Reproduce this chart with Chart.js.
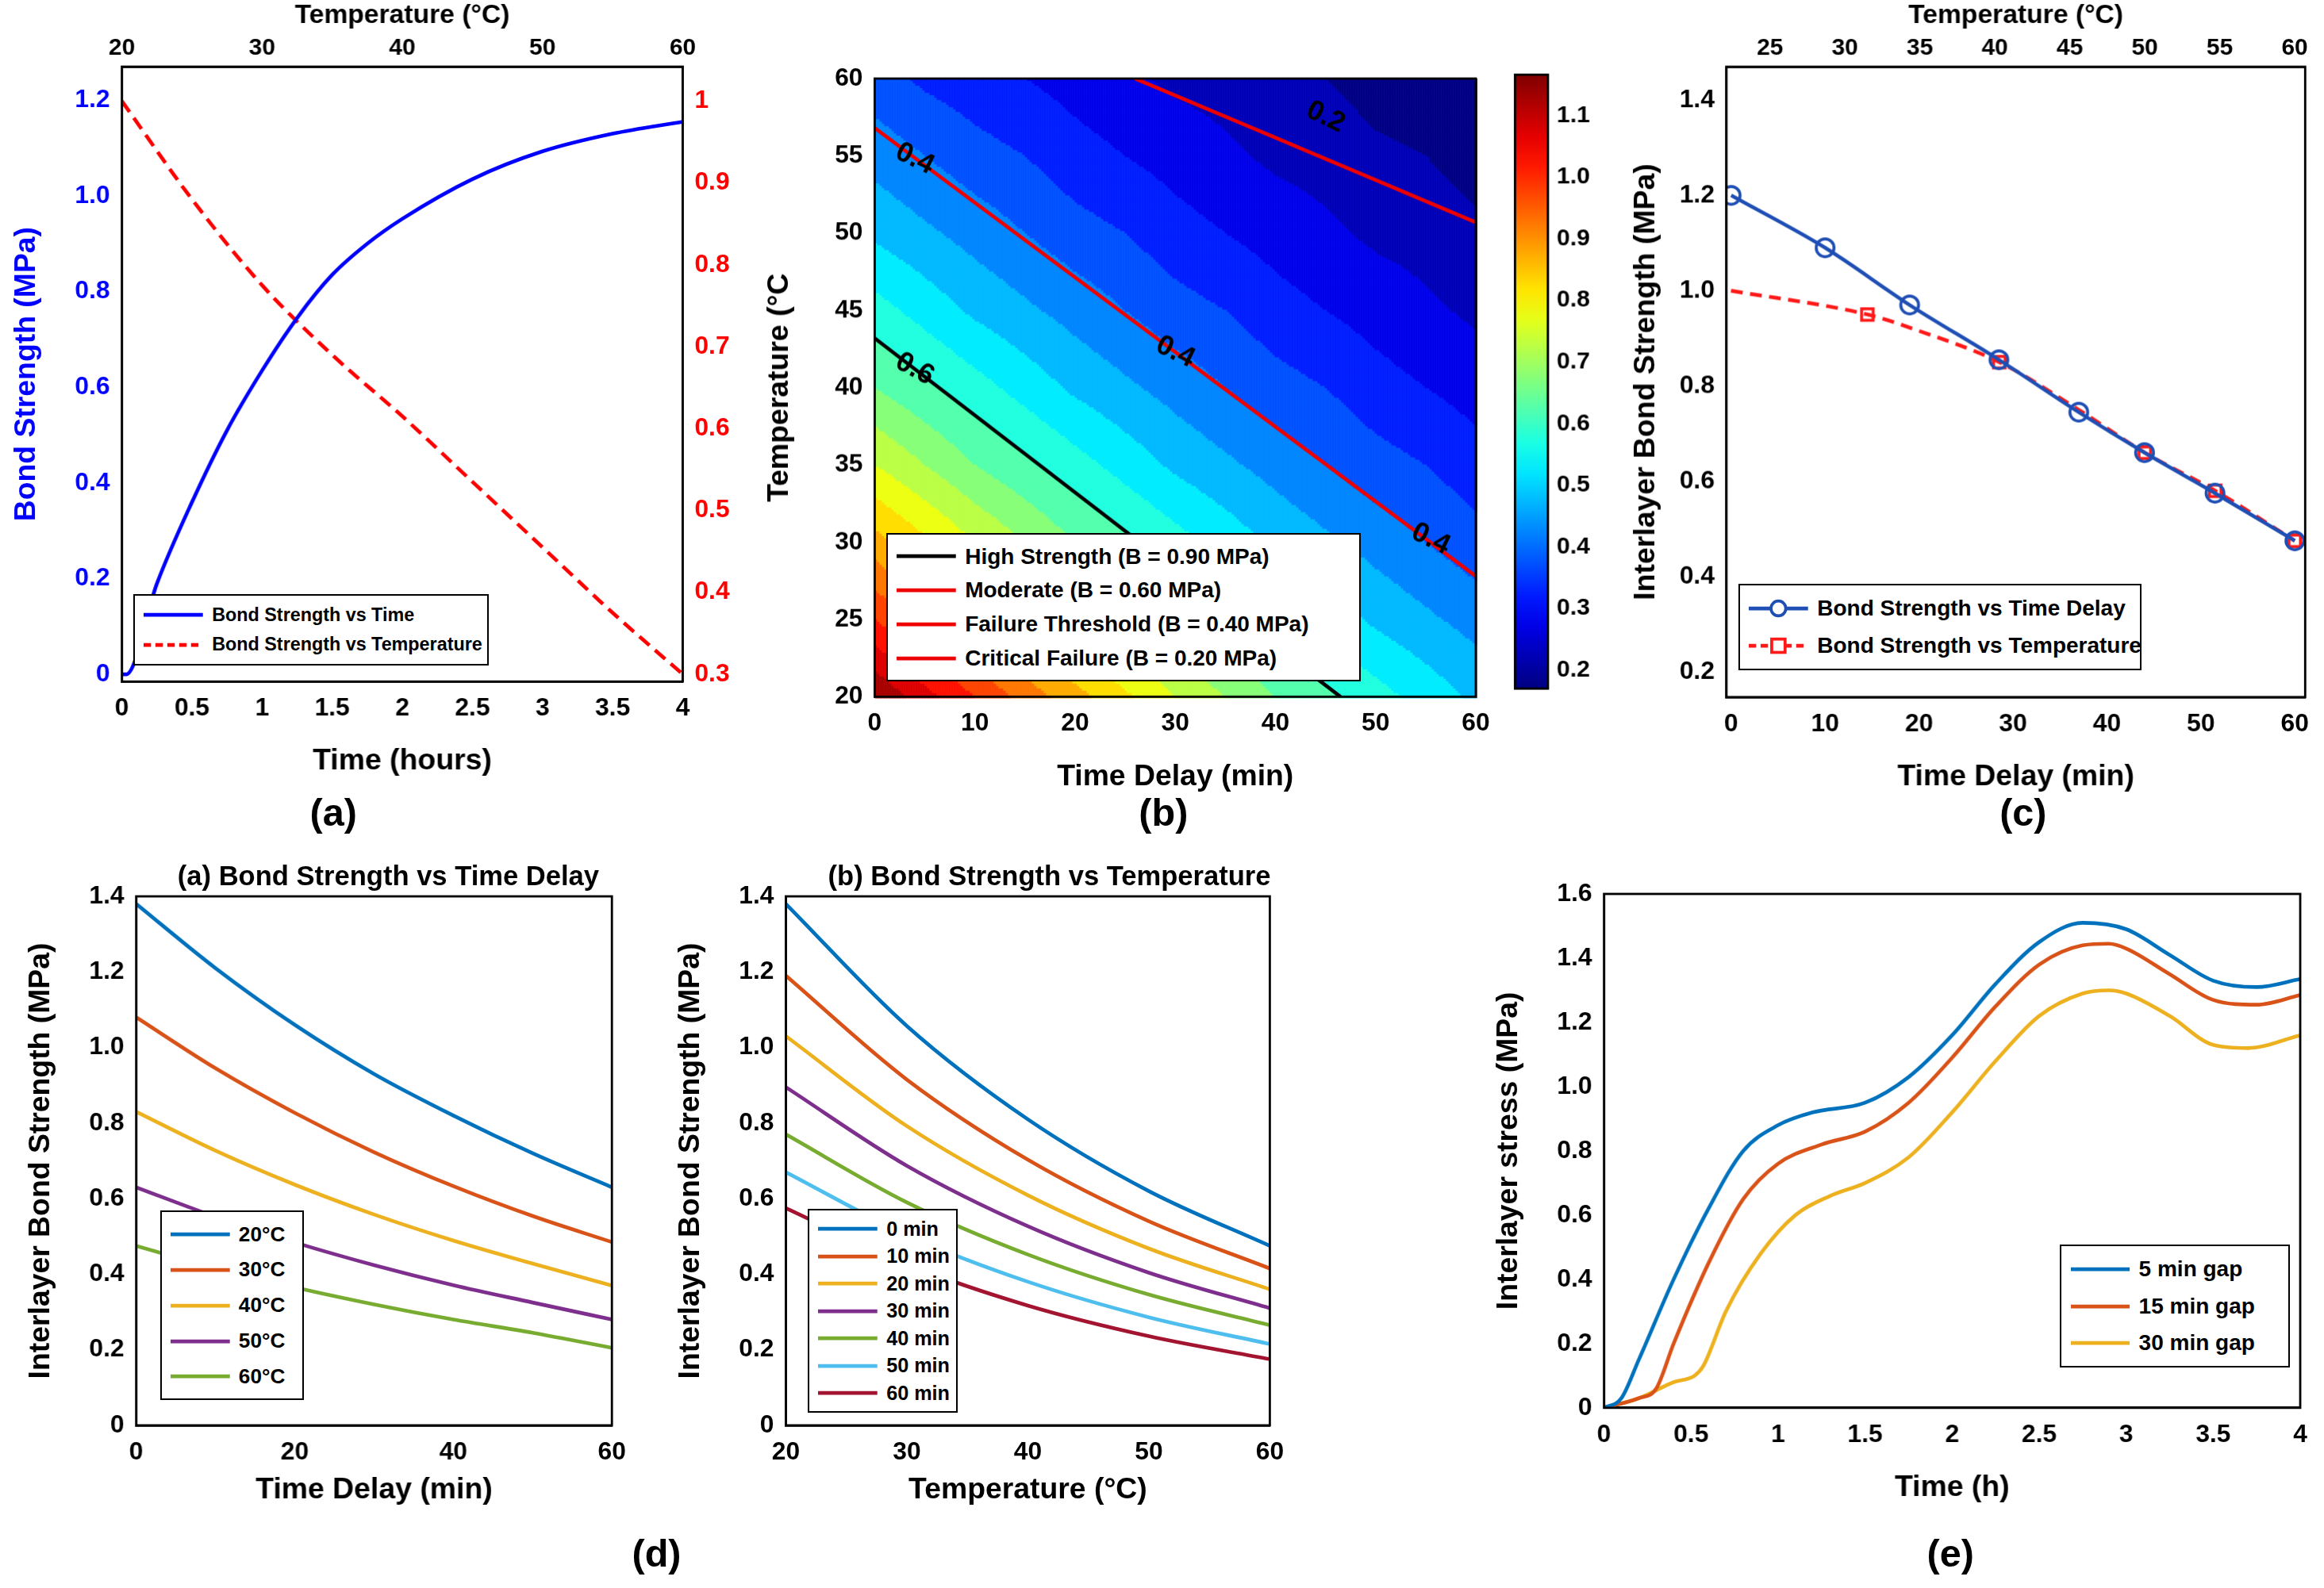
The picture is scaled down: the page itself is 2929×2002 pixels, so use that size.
<!DOCTYPE html>
<html lang="en">
<head>
<meta charset="UTF-8">
<title>Bond strength figure</title>
<script src="https://cdn.jsdelivr.net/npm/chart.js"></script>
<style>
    body { margin: 0; background: #fff; font-family: "Liberation Sans", Arial, sans-serif; }
    #page { position: relative; width: 2929px; height: 2002px; overflow: hidden; background: #fff; }
    .box { position: absolute; }
    .lbl { position: absolute; font-weight: bold; color: #000; white-space: nowrap; transform: translateX(-50%); }
    .legend { position: absolute; background: #fff; border: 2px solid #000; box-sizing: border-box; font-weight: bold; color: #000; }
    .legend .row { display: flex; align-items: center; white-space: nowrap; }
    .legend svg { flex: none; }
</style>
</head>
<body>
<div id="page"></div>
<script>
// ---------- data ----------
// (a)
const aTime = [0, 0.03, 0.25, 0.5, 0.75, 1, 1.25, 1.5, 1.75, 2, 2.5, 3, 3.5, 4];
const aStrength = [0, 0, 0.19, 0.36, 0.51, 0.635, 0.745, 0.835, 0.9, 0.952, 1.035, 1.093, 1.13, 1.155];
const aTemp = [20, 25, 30, 35, 40, 45, 50, 55, 60];
const aTempStrength = [1.0, 0.88, 0.775, 0.69, 0.615, 0.535, 0.455, 0.375, 0.3];

// (b) strength field, rows = temperature, cols = time delay
const heatTime = [0, 5, 10, 15, 20, 25, 30, 35, 40, 45, 50, 55, 60];
const heatTemp = [20, 25, 30, 35, 40, 45, 50, 55, 60];
const heatB = [
    [1.15, 1.07, 1.00, 0.93, 0.87, 0.81, 0.75, 0.70, 0.65, 0.61, 0.57, 0.53, 0.49],
    [1.00, 0.93, 0.87, 0.81, 0.75, 0.70, 0.65, 0.61, 0.57, 0.53, 0.49, 0.46, 0.43],
    [0.87, 0.81, 0.75, 0.70, 0.65, 0.61, 0.57, 0.53, 0.49, 0.46, 0.43, 0.40, 0.37],
    [0.75, 0.70, 0.65, 0.61, 0.57, 0.53, 0.49, 0.46, 0.43, 0.40, 0.37, 0.35, 0.32],
    [0.65, 0.61, 0.57, 0.53, 0.49, 0.46, 0.43, 0.40, 0.37, 0.35, 0.32, 0.30, 0.28],
    [0.57, 0.53, 0.49, 0.46, 0.43, 0.40, 0.37, 0.35, 0.32, 0.30, 0.28, 0.26, 0.24],
    [0.49, 0.46, 0.43, 0.40, 0.37, 0.35, 0.32, 0.30, 0.28, 0.26, 0.24, 0.23, 0.21],
    [0.43, 0.40, 0.37, 0.35, 0.32, 0.30, 0.28, 0.26, 0.24, 0.23, 0.21, 0.20, 0.18],
    [0.37, 0.34, 0.32, 0.30, 0.28, 0.26, 0.24, 0.23, 0.21, 0.20, 0.18, 0.17, 0.16]
];
const contour06 = [{x: 0, y: 43.2}, {x: 46.5, y: 20}];
const contour04 = [{x: 0, y: 56.8}, {x: 60, y: 27.8}];
const contour02 = [{x: 26, y: 60}, {x: 60, y: 50.7}];
const contourLabels = [
    {x: 4, y: 41.2, text: '0.6', angle: 0.5},
    {x: 4, y: 54.8, text: '0.4', angle: 0.45},
    {x: 30, y: 42.3, text: '0.4', angle: 0.45},
    {x: 55.5, y: 30.2, text: '0.4', angle: 0.45},
    {x: 45, y: 57.5, text: '0.2', angle: 0.45}
];

// (c)
const cDelay = [0, 10, 19, 28.5, 37, 44, 51.5, 60];
const cStrength = [1.2, 1.09, 0.97, 0.855, 0.745, 0.66, 0.575, 0.475];
const cTemp = [22.4, 31.5, 35, 40.3, 45.6, 50, 54.7, 60];
const cTempStrength = [1.0, 0.95, 0.915, 0.85, 0.75, 0.66, 0.58, 0.475];
const cTempMarker = [0, 1, 0, 1, 0, 1, 1, 1];

// (d) left
const dDelay = [0, 10, 20, 30, 40, 50, 60];
const dByTemp = {
    '20°C': [1.38, 1.21, 1.06, 0.93, 0.82, 0.72, 0.63],
    '30°C': [1.08, 0.945, 0.827, 0.723, 0.633, 0.554, 0.485],
    '40°C': [0.83, 0.727, 0.637, 0.558, 0.489, 0.428, 0.37],
    '50°C': [0.63, 0.552, 0.484, 0.424, 0.371, 0.325, 0.28],
    '60°C': [0.475, 0.416, 0.365, 0.32, 0.28, 0.245, 0.205]
};
// (d) right
const dTemp = [20, 30, 40, 50, 60];
const dByDelay = {
    '0 min': [1.38, 1.057, 0.81, 0.62, 0.475],
    '10 min': [1.19, 0.915, 0.703, 0.54, 0.415],
    '20 min': [1.03, 0.792, 0.609, 0.468, 0.36],
    '30 min': [0.895, 0.687, 0.527, 0.404, 0.31],
    '40 min': [0.77, 0.59, 0.452, 0.346, 0.265],
    '50 min': [0.67, 0.504, 0.38, 0.286, 0.215],
    '60 min': [0.575, 0.427, 0.317, 0.236, 0.175]
};

// (e)
const eGap5 = [[0,0],[0.1,0.03],[0.2,0.15],[0.4,0.4],[0.6,0.62],[0.8,0.8],[1,0.88],[1.2,0.92],[1.5,0.95],[1.75,1.03],[2,1.16],[2.25,1.32],[2.5,1.45],[2.75,1.51],[3,1.49],[3.25,1.41],[3.5,1.33],[3.75,1.31],[4,1.335]];
const eGap15 = [[0,0],[0.2,0.03],[0.3,0.06],[0.4,0.2],[0.6,0.45],[0.8,0.65],[1,0.76],[1.25,0.82],[1.5,0.86],[1.75,0.95],[2,1.09],[2.25,1.25],[2.5,1.38],[2.75,1.44],[2.9,1.445],[3,1.43],[3.25,1.35],[3.5,1.27],[3.75,1.255],[4,1.285]];
const eGap30 = [[0,0],[0.2,0.03],[0.4,0.08],[0.52,0.1],[0.57,0.13],[0.7,0.3],[0.9,0.48],[1.1,0.6],[1.3,0.66],[1.5,0.7],[1.75,0.78],[2,0.92],[2.25,1.08],[2.5,1.22],[2.75,1.29],[2.9,1.3],[3,1.29],[3.25,1.22],[3.5,1.13],[3.7,1.12],[4,1.16]];

const mColors = ['#0072BD', '#D95319', '#EDB120', '#7E2F8E', '#77AC30', '#4DBEEE', '#A2142F'];

// ---------- helpers ----------
const S = 2929 / 1568;
const page = document.getElementById('page');
Chart.defaults.font.family = '"Liberation Sans", Arial, sans-serif';
Chart.defaults.font.weight = 'bold';
Chart.defaults.color = '#000';
Chart.defaults.animation = false;
Chart.defaults.plugins.legend.display = false;
Chart.defaults.plugins.tooltip.enabled = false;

const TICK = 17 * S, TITLE = 20 * S;

function place(plot, m) {
    const div = document.createElement('div');
    div.className = 'box';
    div.style.left = (plot[0] - m[0]) * S + 'px';
    div.style.top = (plot[1] - m[1]) * S + 'px';
    div.style.width = (plot[2] - plot[0] + m[0] + m[2]) * S + 'px';
    div.style.height = (plot[3] - plot[1] + m[1] + m[3]) * S + 'px';
    const cv = document.createElement('canvas');
    div.appendChild(cv);
    page.appendChild(div);
    return cv;
}
function pad(t, r) { return {top: t * S, right: r * S, left: 0, bottom: 0}; }

function text(x, y, str, size, color) {
    const d = document.createElement('div');
    d.className = 'lbl';
    d.style.left = x * S + 'px';
    d.style.top = y * S + 'px';
    d.style.fontSize = size * S + 'px';
    if (color) d.style.color = color;
    d.textContent = str;
    page.appendChild(d);
}

function legend(x, y, w, items, size, rowH) {
    const d = document.createElement('div');
    d.className = 'legend';
    d.style.left = x * S + 'px';
    d.style.top = y * S + 'px';
    d.style.width = w * S + 'px';
    d.style.padding = 3 * S + 'px ' + 6 * S + 'px';
    d.style.fontSize = size * S + 'px';
    items.forEach(it => {
        const r = document.createElement('div');
        r.className = 'row';
        r.style.height = rowH * S + 'px';
        const sw = 40 * S, sh = 14 * S;
        let svg = `<svg width="${sw}" height="${sh}"><line x1="0" y1="${sh/2}" x2="${sw}" y2="${sh/2}" stroke="${it.color}" stroke-width="${2.5*S}" ${it.dash ? `stroke-dasharray="${5*S},${3*S}"` : ''}/>`;
        if (it.marker === 'circle') svg += `<circle cx="${sw/2}" cy="${sh/2}" r="${5*S}" fill="#fff" stroke="${it.color}" stroke-width="${2*S}"/>`;
        if (it.marker === 'rect') svg += `<rect x="${sw/2-4.5*S}" y="${sh/2-4.5*S}" width="${9*S}" height="${9*S}" fill="#fff" stroke="${it.color}" stroke-width="${2*S}"/>`;
        svg += '</svg>';
        r.innerHTML = svg + `<span style="margin-left:${6*S}px">${it.label}</span>`;
        d.appendChild(r);
    });
    page.appendChild(d);
}

function fix(size) {
    return scale => { if (scale.isHorizontal()) scale.height = size * S; else scale.width = size * S; };
}
function setTicks(values) {
    return scale => { scale.ticks = values.map(v => ({value: v})); };
}
function fmt1(v) { return v === 0 ? '0' : v.toFixed(1); }
function plain(v) { return String(v); }

function axis(opt) {
    return Object.assign({
        type: 'linear',
        grid: {display: false, drawTicks: false},
        border: {display: true, color: '#000', width: 1.5 * S},
        ticks: {font: {size: TICK, weight: 'bold'}, color: '#000', padding: 8 * S, callback: plain},
    }, opt);
}
function title(t, color) {
    return {display: true, text: t, color: color || '#000', font: {size: TITLE, weight: 'bold'}, padding: 4 * S};
}
function topTitle(t) {
    return {display: true, text: t, color: '#000', font: {size: 18 * S, weight: 'bold'}, padding: {top: 0, bottom: 0}};
}
function topTicks() {
    return {font: {size: 16 * S, weight: 'bold'}, color: '#000', padding: 3 * S, callback: plain};
}

const frame = {
    id: 'frame',
    afterDraw(chart) {
        const a = chart.chartArea, c = chart.ctx;
        c.save();
        c.strokeStyle = '#000';
        c.lineWidth = 1.5 * S;
        c.strokeRect(a.left, a.top, a.right - a.left, a.bottom - a.top);
        c.restore();
    }
};

function jet(v) {
    const cl = x => Math.max(0, Math.min(1, x));
    const r = cl(1.5 - Math.abs(4 * v - 3)), g = cl(1.5 - Math.abs(4 * v - 2)), b = cl(1.5 - Math.abs(4 * v - 1));
    return `rgb(${Math.round(r * 255)},${Math.round(g * 255)},${Math.round(b * 255)})`;
}
const CMIN = 0.17, CMAX = 1.166;

function lineSet(data, color, extra) {
    return Object.assign({data: data, borderColor: color, backgroundColor: color, borderWidth: 2.5 * S,
        pointRadius: 0, tension: 0.4, cubicInterpolationMode: 'monotone', fill: false}, extra);
}
function xy(xs, ys) { return xs.map((x, i) => ({x: x, y: ys[i]})); }

// ---------- (a) ----------
new Chart(place([82, 45, 460, 460], [80, 45, 50, 70]), {
    type: 'line',
    data: {datasets: [
        lineSet(xy(aTime, aStrength), '#0000ff', {xAxisID: 'x', yAxisID: 'y'}),
        lineSet(xy(aTemp, aTempStrength), '#ff0000', {xAxisID: 'x2', yAxisID: 'y2', borderDash: [9 * S, 5 * S]})
    ]},
    options: {
        responsive: true, maintainAspectRatio: false, layout: {padding: 0},
        scales: {
            x: axis({position: 'bottom', min: 0, max: 4, afterFit: fix(70), afterBuildTicks: setTicks([0, 0.5, 1, 1.5, 2, 2.5, 3, 3.5, 4]), title: title('Time (hours)')}),
            x2: axis({position: 'top', min: 20, max: 60, afterFit: fix(45), afterBuildTicks: setTicks([20, 30, 40, 50, 60]), ticks: topTicks(), title: topTitle('Temperature (°C)')}),
            y: axis({position: 'left', min: -0.015, max: 1.27, afterFit: fix(80), afterBuildTicks: setTicks([0, 0.2, 0.4, 0.6, 0.8, 1.0, 1.2]),
                ticks: {font: {size: TICK, weight: 'bold'}, color: '#0000ff', padding: 8 * S, callback: fmt1}, title: title('Bond Strength (MPa)', '#0000ff')}),
            y2: axis({position: 'right', min: 0.291, max: 1.042, afterFit: fix(50), afterBuildTicks: setTicks([0.3, 0.4, 0.5, 0.6, 0.7, 0.8, 0.9, 1]),
                ticks: {font: {size: TICK, weight: 'bold'}, color: '#ff0000', padding: 8 * S, callback: v => v === 1 ? '1' : v.toFixed(1)}})
        }
    },
    plugins: [frame]
});
legend(90, 401, 240, [
    {label: 'Bond Strength vs Time', color: '#0000ff'},
    {label: 'Bond Strength vs Temperature', color: '#ff0000', dash: true}
], 12.5, 20);

// ---------- (b) ----------
const heatPlugin = {
    id: 'heat',
    beforeDatasetsDraw(chart) {
        const a = chart.chartArea, c = chart.ctx, xs = chart.scales.x, ys = chart.scales.y;
        const step = 3;
        c.save();
        for (let px = a.left; px < a.right; px += step) {
            for (let py = a.top; py < a.bottom; py += step) {
                const t = xs.getValueForPixel(px + step / 2), T = ys.getValueForPixel(py + step / 2);
                const fi = Math.max(0, Math.min(heatTime.length - 1.001, (t - heatTime[0]) / 5));
                const fj = Math.max(0, Math.min(heatTemp.length - 1.001, (T - heatTemp[0]) / 5));
                const i = Math.floor(fi), j = Math.floor(fj), u = fi - i, w = fj - j;
                const v = heatB[j][i] * (1 - u) * (1 - w) + heatB[j][i + 1] * u * (1 - w) +
                          heatB[j + 1][i] * (1 - u) * w + heatB[j + 1][i + 1] * u * w;
                const q = Math.floor(v / 0.05) * 0.05 + 0.025;
                c.fillStyle = jet((q - CMIN) / (CMAX - CMIN));
                c.fillRect(px, py, step + 0.5, step + 0.5);
            }
        }
        c.restore();
    },
    afterDatasetsDraw(chart) {
        const c = chart.ctx, xs = chart.scales.x, ys = chart.scales.y;
        c.save();
        c.font = `bold ${19 * S}px "Liberation Sans", Arial`;
        c.textAlign = 'center';
        c.textBaseline = 'middle';
        contourLabels.forEach(l => {
            c.save();
            c.translate(xs.getPixelForValue(l.x), ys.getPixelForValue(l.y));
            c.rotate(l.angle);
            c.fillStyle = '#000';
            c.fillText(l.text, 0, 0);
            c.restore();
        });
        c.restore();
    }
};
new Chart(place([590, 45, 1003, 470], [80, 10, 10, 70]), {
    type: 'line',
    data: {datasets: [
        lineSet(contour06, '#000000', {tension: 0}),
        lineSet(contour04, '#ee0000', {tension: 0}),
        lineSet(contour02, '#ee0000', {tension: 0})
    ]},
    options: {
        responsive: true, maintainAspectRatio: false, layout: {padding: pad(10, 10)},
        scales: {
            x: axis({position: 'bottom', min: 0, max: 60, afterFit: fix(70), afterBuildTicks: setTicks([0, 10, 20, 30, 40, 50, 60]), title: title('Time Delay (min)')}),
            y: axis({position: 'left', min: 20, max: 60, afterFit: fix(80), afterBuildTicks: setTicks([20, 25, 30, 35, 40, 45, 50, 55, 60]), title: title('Temperature (°C')})
        }
    },
    plugins: [heatPlugin, frame]
});
legend(598, 360, 320, [
    {label: 'High Strength (B = 0.90 MPa)', color: '#000000'},
    {label: 'Moderate (B = 0.60 MPa)', color: '#ee0000'},
    {label: 'Failure Threshold (B = 0.40 MPa)', color: '#ee0000'},
    {label: 'Critical Failure (B = 0.20 MPa)', color: '#ee0000'}
], 15, 23);

// colorbar
const cbarTicks = [0.2, 0.3, 0.4, 0.5, 0.6, 0.7, 0.8, 0.9, 1.0, 1.1];
new Chart(place([1022, 45, 1044, 470], [5, 10, 50, 10]), {
    type: 'scatter',
    data: {datasets: [{data: []}]},
    options: {
        responsive: true, maintainAspectRatio: false, layout: {padding: {top: 10 * S, bottom: 10 * S, left: 5 * S, right: 0}},
        scales: {
            x: axis({display: false, min: 0, max: 1}),
            y: axis({position: 'right', min: CMIN, max: CMAX, afterFit: fix(50), afterBuildTicks: setTicks(cbarTicks),
                ticks: {font: {size: 16 * S, weight: 'bold'}, color: '#000', padding: 6 * S, callback: v => v.toFixed(1)}})
        }
    },
    plugins: [{
        id: 'cbar',
        beforeDraw(chart) {
            const a = chart.chartArea, c = chart.ctx;
            const g = c.createLinearGradient(0, a.bottom, 0, a.top);
            for (let k = 0; k <= 20; k++) g.addColorStop(k / 20, jet(k / 20));
            c.fillStyle = g;
            c.fillRect(a.left, a.top, a.right - a.left, a.bottom - a.top);
        }
    }, frame]
});

// ---------- (c) ----------
new Chart(place([1165, 45, 1555, 470], [70, 45, 12, 70]), {
    type: 'line',
    data: {datasets: [
        lineSet(xy(cDelay, cStrength), '#1f4fb4', {xAxisID: 'x', yAxisID: 'y', tension: 0, pointRadius: 6 * S,
            pointStyle: 'circle', pointBackgroundColor: 'rgba(255,255,255,0)', pointBorderWidth: 2 * S}),
        lineSet(xy(cTemp, cTempStrength), '#ff1a1a', {xAxisID: 'x2', yAxisID: 'y', borderDash: [8 * S, 5 * S], tension: 0.3,
            pointRadius: cTempMarker.map(m => m * 5.5 * S), pointStyle: 'rect', pointBackgroundColor: 'rgba(255,255,255,0)', pointBorderWidth: 2 * S})
    ]},
    options: {
        responsive: true, maintainAspectRatio: false, layout: {padding: pad(0, 12)},
        scales: {
            x: axis({position: 'bottom', min: -0.5, max: 61.1, afterFit: fix(70), afterBuildTicks: setTicks([0, 10, 20, 30, 40, 50, 60]), title: title('Time Delay (min)')}),
            x2: axis({position: 'top', min: 22.1, max: 60.7, afterFit: fix(45), afterBuildTicks: setTicks([25, 30, 35, 40, 45, 50, 55, 60]), ticks: topTicks(), title: topTitle('Temperature (°C)')}),
            y: axis({position: 'left', min: 0.147, max: 1.47, afterFit: fix(70), afterBuildTicks: setTicks([0.2, 0.4, 0.6, 0.8, 1.0, 1.2, 1.4]),
                ticks: {font: {size: TICK, weight: 'bold'}, color: '#000', padding: 8 * S, callback: v => v.toFixed(1)}, title: title('Interlayer Bond Strength (MPa)')})
        }
    },
    plugins: [frame]
});
legend(1173, 394, 272, [
    {label: 'Bond Strength vs Time Delay', color: '#1f4fb4', marker: 'circle'},
    {label: 'Bond Strength vs Temperature', color: '#ff1a1a', dash: true, marker: 'rect'}
], 15, 25);

// ---------- (d) left ----------
new Chart(place([92, 605, 418, 962], [80, 30, 12, 60]), {
    type: 'line',
    data: {datasets: Object.keys(dByTemp).map((k, i) => lineSet(xy(dDelay, dByTemp[k]), mColors[i]))},
    options: {
        responsive: true, maintainAspectRatio: false, layout: {padding: pad(30, 12)},
        scales: {
            x: axis({position: 'bottom', min: 0, max: 60, afterFit: fix(60), afterBuildTicks: setTicks([0, 20, 40, 60]), title: title('Time Delay (min)')}),
            y: axis({position: 'left', min: 0, max: 1.4, afterFit: fix(80), afterBuildTicks: setTicks([0, 0.2, 0.4, 0.6, 0.8, 1.0, 1.2, 1.4]),
                ticks: {font: {size: TICK, weight: 'bold'}, color: '#000', padding: 8 * S, callback: fmt1}, title: title('Interlayer Bond Strength (MPa)')})
        }
    },
    plugins: [frame]
});
text(262, 581, '(a) Bond Strength vs Time Delay', 18.5);
legend(108, 817, 97, Object.keys(dByTemp).map((k, i) => ({label: k, color: mColors[i]})), 14, 24);

// ---------- (d) right ----------
new Chart(place([530, 605, 862, 962], [80, 30, 12, 60]), {
    type: 'line',
    data: {datasets: Object.keys(dByDelay).map((k, i) => lineSet(xy(dTemp, dByDelay[k]), mColors[i]))},
    options: {
        responsive: true, maintainAspectRatio: false, layout: {padding: pad(30, 12)},
        scales: {
            x: axis({position: 'bottom', min: 20, max: 60, afterFit: fix(60), afterBuildTicks: setTicks([20, 30, 40, 50, 60]), title: title('Temperature (°C)')}),
            y: axis({position: 'left', min: 0, max: 1.4, afterFit: fix(80), afterBuildTicks: setTicks([0, 0.2, 0.4, 0.6, 0.8, 1.0, 1.2, 1.4]),
                ticks: {font: {size: TICK, weight: 'bold'}, color: '#000', padding: 8 * S, callback: fmt1}, title: title('Interlayer Bond Strength (MPa)')})
        }
    },
    plugins: [frame]
});
text(708, 581, '(b) Bond Strength vs Temperature', 18.5);
legend(545, 816, 101, Object.keys(dByDelay).map((k, i) => ({label: k, color: mColors[i]})), 13.5, 18.5);

// ---------- (e) ----------
const ePairs = p => p.map(q => ({x: q[0], y: q[1]}));
new Chart(place([1082, 595, 1552, 950], [80, 10, 12, 70]), {
    type: 'line',
    data: {datasets: [
        lineSet(ePairs(eGap5), mColors[0]),
        lineSet(ePairs(eGap15), mColors[1]),
        lineSet(ePairs(eGap30), mColors[2])
    ]},
    options: {
        responsive: true, maintainAspectRatio: false, layout: {padding: pad(10, 12)},
        scales: {
            x: axis({position: 'bottom', min: 0, max: 4, afterFit: fix(70), afterBuildTicks: setTicks([0, 0.5, 1, 1.5, 2, 2.5, 3, 3.5, 4]), title: title('Time (h)')}),
            y: axis({position: 'left', min: 0, max: 1.6, afterFit: fix(80), afterBuildTicks: setTicks([0, 0.2, 0.4, 0.6, 0.8, 1.0, 1.2, 1.4, 1.6]),
                ticks: {font: {size: TICK, weight: 'bold'}, color: '#000', padding: 8 * S, callback: fmt1}, title: title('Interlayer stress (MPa)')})
        }
    },
    plugins: [frame]
});
legend(1390, 840, 155, [
    {label: '5 min gap', color: mColors[0]},
    {label: '15 min gap', color: mColors[1]},
    {label: '30 min gap', color: mColors[2]}
], 15, 25);

// panel letters
text(225, 533, '(a)', 26);
text(785, 533, '(b)', 26);
text(1365, 533, '(c)', 26);
text(443, 1033, '(d)', 26);
text(1316, 1033, '(e)', 26);
</script>
</body>
</html>
